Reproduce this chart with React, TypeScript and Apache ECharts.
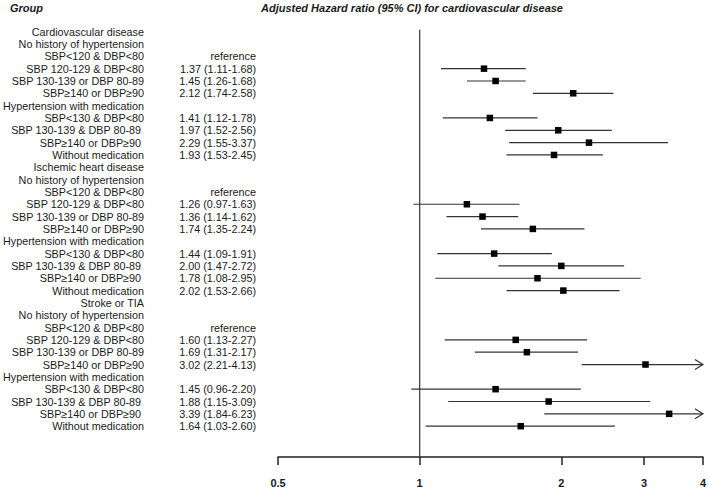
import React, { useEffect, useRef } from "react";
import * as echarts from "echarts";

// Row labels (left column), blank rows at the end give the gap above the axis
const rowLabels: string[] = [
  "Cardiovascular disease",
  "No history of hypertension",
  "SBP<120 & DBP<80",
  "SBP 120-129 & DBP<80",
  "SBP 130-139 or DBP 80-89",
  "SBP≥140 or DBP≥90",
  "Hypertension with medication",
  "SBP<130 & DBP<80",
  "SBP 130-139 & DBP 80-89 ",
  "SBP≥140 or DBP≥90 ",
  "Without medication",
  "Ischemic heart disease",
  "No history of hypertension",
  "SBP<120 & DBP<80",
  "SBP 120-129 & DBP<80",
  "SBP 130-139 or DBP 80-89",
  "SBP≥140 or DBP≥90",
  "Hypertension with medication",
  "SBP<130 & DBP<80",
  "SBP 130-139 & DBP 80-89 ",
  "SBP≥140 or DBP≥90 ",
  "Without medication",
  "Stroke or TIA",
  "No history of hypertension",
  "SBP<120 & DBP<80",
  "SBP 120-129 & DBP<80",
  "SBP 130-139 or DBP 80-89",
  "SBP≥140 or DBP≥90",
  "Hypertension with medication",
  "SBP<130 & DBP<80",
  "SBP 130-139 & DBP 80-89 ",
  "SBP≥140 or DBP≥90 ",
  "Without medication",
  "",
  "",
];

// Hazard ratios (null = header / reference row)
const hazardRatios: (number | null)[] = [
  null, null, null, 1.37, 1.45, 2.12, null, 1.41, 1.97, 2.29, 1.93,
  null, null, null, 1.26, 1.36, 1.74, null, 1.44, 2.0, 1.78, 2.02,
  null, null, null, 1.6, 1.69, 3.02, null, 1.45, 1.88, 3.39, 1.64,
  null, null,
];
const lowerCI: (number | null)[] = [
  null, null, null, 1.11, 1.26, 1.74, null, 1.12, 1.52, 1.55, 1.53,
  null, null, null, 0.97, 1.14, 1.35, null, 1.09, 1.47, 1.08, 1.53,
  null, null, null, 1.13, 1.31, 2.21, null, 0.96, 1.15, 1.84, 1.03,
  null, null,
];
const upperCI: (number | null)[] = [
  null, null, null, 1.68, 1.68, 2.58, null, 1.78, 2.56, 3.37, 2.45,
  null, null, null, 1.63, 1.62, 2.24, null, 1.91, 2.72, 2.95, 2.66,
  null, null, null, 2.27, 2.17, 4.13, null, 2.2, 3.09, 6.23, 2.6,
  null, null,
];
const hrTexts: string[] = [
  "", "", "reference", "1.37 (1.11-1.68)", "1.45 (1.26-1.68)", "2.12 (1.74-2.58)",
  "", "1.41 (1.12-1.78)", "1.97 (1.52-2.56)", "2.29 (1.55-3.37)", "1.93 (1.53-2.45)",
  "", "", "reference", "1.26 (0.97-1.63)", "1.36 (1.14-1.62)", "1.74 (1.35-2.24)",
  "", "1.44 (1.09-1.91)", "2.00 (1.47-2.72)", "1.78 (1.08-2.95)", "2.02 (1.53-2.66)",
  "", "", "reference", "1.60 (1.13-2.27)", "1.69 (1.31-2.17)", "3.02 (2.21-4.13)",
  "", "1.45 (0.96-2.20)", "1.88 (1.15-3.09)", "3.39 (1.84-6.23)", "1.64 (1.03-2.60)",
  "", "",
];
const xTicks = [0.5, 1, 2, 3, 4];
const xMin = 0.5;
const xMax = 4;
const referenceValue = 1;

const FONT = "'Liberation Sans', Arial, sans-serif";

export default function App() {
  const ref = useRef<HTMLDivElement>(null);

  useEffect(() => {
    if (!ref.current) return;
    const chart = echarts.init(ref.current, null, { renderer: "svg" });

    const ciData: number[][] = [];
    hazardRatios.forEach((hr, i) => {
      if (hr != null) ciData.push([hr, i, lowerCI[i] as number, upperCI[i] as number]);
    });

    const option: any = {
      animation: false,
      backgroundColor: "#fff",
      grid: { left: 277, right: 4, top: 25.5, bottom: 33, containLabel: false },
      graphic: [
        {
          type: "text",
          left: 10,
          top: 2,
          style: {
            text: "Group",
            font: `italic bold 11px ${FONT}`,
            fill: "#1a1a1a",
          },
        },
        {
          type: "text",
          left: 261,
          top: 2,
          style: {
            text: "Adjusted Hazard ratio (95% CI) for cardiovascular disease",
            font: `italic bold 11px ${FONT}`,
            fill: "#1a1a1a",
          },
        },
      ],
      xAxis: {
        type: "log",
        logBase: 2,
        min: xMin,
        max: xMax,
        axisLine: { show: true, lineStyle: { color: "#222", width: 1.5 } },
        axisTick: {
          show: true,
          customValues: xTicks,
          length: 8,
          lineStyle: { color: "#222", width: 1.5 },
        },
        axisLabel: {
          customValues: xTicks,
          margin: 20,
          fontSize: 11,
          fontWeight: "bold",
          fontFamily: FONT,
          color: "#1a1a1a",
          formatter: (v: number) => String(v),
        },
        splitLine: { show: false },
        minorTick: { show: false },
      },
      yAxis: [
        {
          type: "category",
          inverse: true,
          position: "left",
          data: rowLabels,
          axisLine: { show: false },
          axisTick: { show: false },
          splitLine: { show: false },
          axisLabel: {
            interval: 0,
            margin: 134,
            fontSize: 10.8,
            fontFamily: FONT,
            color: "#1a1a1a",
            align: "right",
          },
        },
        {
          type: "category",
          inverse: true,
          position: "left",
          data: hrTexts,
          axisLine: { show: false },
          axisTick: { show: false },
          splitLine: { show: false },
          axisLabel: {
            interval: 0,
            margin: 22,
            fontSize: 10.8,
            fontFamily: FONT,
            color: "#1a1a1a",
            align: "right",
          },
        },
      ],
      series: [
        {
          type: "custom",
          name: "reference line",
          xAxisIndex: 0,
          yAxisIndex: 0,
          data: [[referenceValue, 0]],
          encode: { x: 0, y: 1 },
          silent: true,
          renderItem: (params: any, api: any) => {
            const p = api.coord([api.value(0), api.value(1)]);
            const cs = params.coordSys;
            return {
              type: "line",
              shape: { x1: p[0], y1: p[1] - 2, x2: p[0], y2: cs.y + cs.height },
              style: { stroke: "#444", lineWidth: 1.3 },
            };
          },
        },
        {
          type: "custom",
          name: "hazard ratio",
          xAxisIndex: 0,
          yAxisIndex: 0,
          data: ciData,
          encode: { x: 0, y: 1 },
          silent: true,
          renderItem: (params: any, api: any) => {
            const hr = api.value(0);
            const row = api.value(1);
            const lo = api.value(2);
            const hi = api.value(3);
            const hiC = Math.min(hi, xMax);
            const p = api.coord([hr, row]);
            const pl = api.coord([lo, row]);
            const ph = api.coord([hiC, row]);
            const s = 6.5;
            const children: any[] = [
              {
                type: "line",
                shape: { x1: pl[0], y1: p[1], x2: ph[0], y2: p[1] },
                style: { stroke: "#333", lineWidth: 1.2 },
              },
              {
                type: "rect",
                shape: { x: p[0] - s / 2, y: p[1] - s / 2, width: s, height: s },
                style: { fill: "#000" },
              },
            ];
            if (hi > xMax) {
              children.push({
                type: "polyline",
                shape: {
                  points: [
                    [ph[0] - 8, p[1] - 5],
                    [ph[0], p[1]],
                    [ph[0] - 8, p[1] + 5],
                  ],
                },
                style: { stroke: "#333", fill: "none", lineWidth: 1.2 },
              });
            }
            return { type: "group", children };
          },
        },
      ],
    };

    chart.setOption(option);
    return () => chart.dispose();
  }, []);

  return (
    <div
      ref={ref}
      style={{ position: "fixed", left: 0, top: 0, width: 709, height: 490, background: "#fff" }}
    />
  );
}
